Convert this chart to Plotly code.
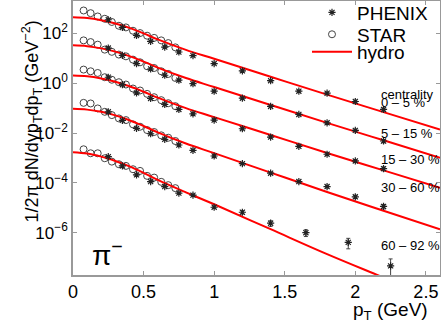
import plotly.graph_objects as go

# transverse momentum bins (GeV)
pt_phenix = [0.25, 0.35, 0.45, 0.55, 0.65, 0.75, 0.85, 1.0, 1.2, 1.4, 1.6, 1.8, 2.0, 2.2]
pt_phenix_periph = [0.25, 0.35, 0.45, 0.55, 0.65, 0.75, 0.85, 1.0, 1.2, 1.4, 1.65, 1.95, 2.25]
pt_star = [0.075, 0.125, 0.175, 0.225, 0.275, 0.325, 0.375, 0.425, 0.475, 0.525, 0.575, 0.625, 0.675, 0.725]
pt_hydro = [0.0, 0.1, 0.2, 0.3, 0.4, 0.5, 0.6, 0.8, 1.0, 1.4, 1.8, 2.2, 2.6]

centralities = ["0 – 5 %", "5 – 15 %", "15 – 30 %", "30 – 60 %", "60 – 92 %"]

# PHENIX pi- spectra (scaled per centrality)
phenix_0_5 = [353, 174, 83, 47.9, 28.3, 17.9, 12.8, 6.14, 3.16, 1.26, 0.479, 0.398, 0.185, 0.0887]
phenix_5_15 = [25.8, 13.2, 6.14, 3.73, 2.09, 1.32, 0.955, 0.479, 0.251, 0.117, 0.056, 0.0258, 0.0128, 0.00479]
phenix_15_30 = [1.74, 0.871, 0.409, 0.244, 0.141, 0.0887, 0.0592, 0.0331, 0.0149, 0.00692, 0.00294, 0.00141, 0.000759, 0.000373]
phenix_30_60 = [0.0711, 0.0322, 0.0154, 0.00938, 0.0056, 0.00331, 0.00203, 0.0012, 0.000592, 0.000244, 0.000113, 7.11e-5, 2.75e-5, 1.13e-5]
phenix_60_92 = [0.00113, 0.000479, 0.000209, 0.000113, 7.11e-5, 3.87e-5, 3.22e-5, 1.05e-5, 6.61e-6, 2.4e-6, 1e-6, 4.09e-7, 4.66e-8]

# relative errors on the PHENIX points (up, down)
err_0_5 = [0.05, 0.05, 0.05, 0.05, 0.05, 0.05, 0.05, 0.06, 0.06, 0.07, 0.08, 0.1, 0.12, 0.15]
err_5_15 = [0.05, 0.05, 0.05, 0.05, 0.05, 0.05, 0.05, 0.06, 0.06, 0.07, 0.08, 0.1, 0.12, 0.15]
err_15_30 = [0.05, 0.05, 0.05, 0.05, 0.05, 0.05, 0.05, 0.06, 0.06, 0.07, 0.08, 0.1, 0.12, 0.18]
err_30_60 = [0.05, 0.05, 0.05, 0.05, 0.05, 0.05, 0.05, 0.06, 0.07, 0.08, 0.1, 0.12, 0.15, 0.2]
err_60_92 = [0.06, 0.06, 0.06, 0.06, 0.07, 0.07, 0.08, 0.1, 0.15, 0.25, 0.3, 0.45, 0.9]
err_60_92_low = [0.06, 0.06, 0.06, 0.06, 0.07, 0.07, 0.08, 0.1, 0.15, 0.25, 0.3, 0.45, 0.99]

# STAR pi- spectra
star_0_5 = [832, 649, 479, 387, 288, 203, 174, 128, 103, 80.9, 66.1, 52.5, 40.9, 27.5]
star_5_15 = [52.5, 44.9, 35.3, 22.3, 18.2, 14.1, 12.0, 8.87, 6.92, 4.79, 4.09, 3.02, 2.36, 1.63]
star_15_30 = [3.53, 3.02, 2.58, 1.74, 1.38, 1.10, 0.887, 0.614, 0.511, 0.373, 0.275, 0.209, 0.158, 0.120]
star_30_60 = [0.163, 0.154, 0.0973, 0.0711, 0.0525, 0.0387, 0.0331, 0.0223, 0.0179, 0.0132, 0.011, 0.00809, 0.00649, 0.00479]
star_60_92 = [0.00223, 0.00154, 0.00154, 0.000973, 0.000711, 0.00056, 0.000479, 0.000353, 0.000302, 0.000191, 0.000163, 0.00011, 8.09e-5, 6.14e-5]

# hydro curves
hydro_0_5 = [449, 417, 340, 251, 166, 100, 57.5, 21.9, 9.55, 1.82, 0.347, 0.0692, 0.0138]
hydro_5_15 = [33.1, 30.8, 25.1, 18.5, 12.2, 7.38, 4.25, 1.61, 0.705, 0.134, 0.0256, 0.0051, 0.00102]
hydro_15_30 = [2.05, 1.91, 1.56, 1.15, 0.759, 0.457, 0.263, 0.1, 0.0437, 0.00832, 0.00158, 0.000316, 6.31e-5]
hydro_30_60 = [0.0938, 0.0871, 0.0711, 0.0511, 0.0328, 0.0191, 0.0107, 0.0038, 0.00156, 0.000258, 4.29e-5, 7.59e-6, 1.38e-6]
hydro_60_92 = [0.00171, 0.00151, 0.00113, 0.000759, 0.000457, 0.000251, 0.000132, 4.17e-5, 1.38e-5, 1.38e-6, 1.38e-7, 1.58e-8, 1.82e-9]

series = [
    (pt_phenix, phenix_0_5, err_0_5, err_0_5, star_0_5, hydro_0_5),
    (pt_phenix, phenix_5_15, err_5_15, err_5_15, star_5_15, hydro_5_15),
    (pt_phenix, phenix_15_30, err_15_30, err_15_30, star_15_30, hydro_15_30),
    (pt_phenix, phenix_30_60, err_30_60, err_30_60, star_30_60, hydro_30_60),
    (pt_phenix_periph, phenix_60_92, err_60_92, err_60_92_low, star_60_92, hydro_60_92),
]

fig = go.Figure()
for i, (ph_pt, ph, e_up, e_low, st, hy) in enumerate(series):
    fig.add_trace(go.Scatter(
        x=pt_star, y=st, mode="markers", name="STAR", legend="legend2",
        showlegend=(i == 0),
        marker=dict(symbol="circle-open", size=7, color="#444", line=dict(width=1))))
    fig.add_trace(go.Scatter(
        x=pt_hydro, y=hy, mode="lines", name="hydro", legend="legend3",
        showlegend=(i == 0),
        line=dict(color="red", width=2, shape="spline")))
    fig.add_trace(go.Scatter(
        x=ph_pt, y=ph, mode="markers", name="PHENIX", legend="legend",
        showlegend=(i == 0),
        marker=dict(symbol="asterisk-open", size=6, color="#222", line=dict(width=1.2, color="#222")),
        error_y=dict(type="data", symmetric=False,
                     array=[v * e for v, e in zip(ph, e_up)],
                     arrayminus=[v * e for v, e in zip(ph, e_low)],
                     color="#444", thickness=1, width=2)))

# centrality labels on the right
label_y = [0.631, 0.518, 0.420, 0.285, 0.073]
fig.add_annotation(text="centrality", x=2.17, xref="x", xanchor="left", y=0.693, yref="paper",
                   showarrow=False, font=dict(size=13))
for lab, yy in zip(centralities, label_y):
    fig.add_annotation(text=lab, x=2.17, xref="x", xanchor="left", y=yy, yref="paper",
                       showarrow=False, font=dict(size=13))

fig.add_annotation(text="π<sup>−</sup>", x=0.046, xref="paper", xanchor="left",
                   y=0.008, yref="paper", showarrow=False, font=dict(size=28))

# axis titles
fig.add_annotation(text="1/2π dN/dyp<sub>T</sub>dp<sub>T</sub> (GeV<sup>−2</sup>)",
                   x=0, xref="paper", xshift=-56, y=0.558, yref="paper", textangle=-90,
                   showarrow=False, font=dict(size=18))
fig.add_annotation(text="p<sub>T</sub> (GeV)", x=1, xref="paper", xanchor="right", xshift=-10,
                   y=0, yref="paper", yanchor="top", yshift=-22,
                   showarrow=False, font=dict(size=19))

axis_style = dict(showline=True, linecolor="#999", linewidth=1.5, mirror="ticks",
                  ticks="inside", ticklen=4, tickcolor="#999", showgrid=False, zeroline=False)

fig.update_xaxes(range=[0, 2.6], tickvals=[0, 0.5, 1, 1.5, 2, 2.5],
                 ticktext=["0", "0.5", "1", "1.5", "2", "2.5"],
                 tickfont=dict(size=18), **axis_style)
fig.update_yaxes(type="log", range=[-7.699, 3.301],
                 tickvals=[1e-6, 1e-4, 1e-2, 1, 1e2],
                 ticktext=["10<sup>−6</sup>", "10<sup>−4</sup>", "10<sup>−2</sup>",
                           "10<sup>0</sup>", "10<sup>2</sup>"],
                 tickfont=dict(size=17), **axis_style)

# one legend box per entry so the rows can sit as tight as in the original
leg = dict(x=0.6376, xanchor="left", yanchor="middle", bgcolor="rgba(0,0,0,0)",
           font=dict(size=19), itemwidth=40, borderwidth=0)
fig.update_layout(
    width=441, height=322,
    margin=dict(l=73, r=1, t=1, b=47, autoexpand=False),
    plot_bgcolor="white", paper_bgcolor="white",
    font=dict(family="Liberation Sans, Arial, sans-serif", color="black"),
    legend=dict(leg, y=0.958),
    legend2=dict(leg, y=0.878),
    legend3=dict(leg, y=0.814),
)

# the page body has a default margin; drop it so the figure sits at the window corner
fig.write_html("out.html", config={"displayModeBar": False},
               post_script="document.body.style.margin='0';")
